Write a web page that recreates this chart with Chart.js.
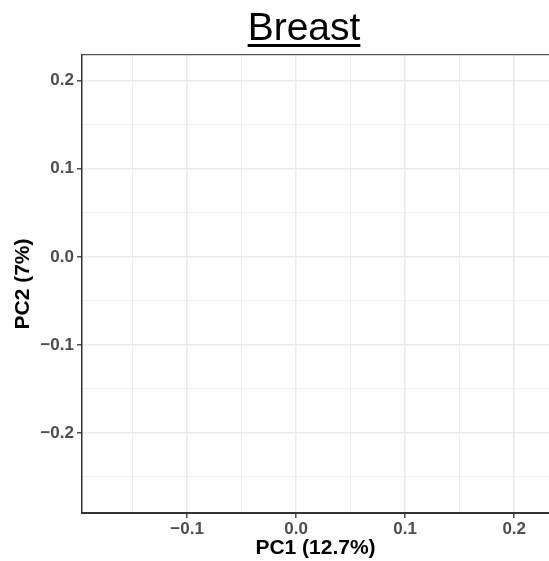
<!DOCTYPE html>
<html>
<head>
<meta charset="utf-8">
<script src="https://cdn.jsdelivr.net/npm/chart.js@4/dist/chart.umd.min.js"></script>
<style>
  body { margin: 0; background: #ffffff; overflow: hidden; }
  canvas { display: block; }
</style>
</head>
<body>
<canvas id="pca-chart" width="549" height="561"></canvas>
<script>
var title = "Breast";
var xTitle = "PC1 (12.7%)";
var yTitle = "PC2 (7%)";

// sample scores (none are drawn in this panel)
var pc1 = [];
var pc2 = [];

var xRange = [-0.1964, 0.2319];
var yRange = [-0.2909, 0.2292];

var xGrid = [-0.15, -0.1, -0.05, 0, 0.05, 0.1, 0.15, 0.2];
var yGrid = [-0.25, -0.2, -0.15, -0.1, -0.05, 0, 0.05, 0.1, 0.15, 0.2];
var majorTicks = [-0.2, -0.1, 0, 0.1, 0.2];
var majorLabels = ["\u22120.2", "\u22120.1", "0.0", "0.1", "0.2"];

function isMajor(v) {
  return majorTicks.some(function (m) { return Math.abs(m - v) < 1e-9; });
}
function labelFor(v) {
  for (var i = 0; i < majorTicks.length; i++) {
    if (Math.abs(majorTicks[i] - v) < 1e-9) return majorLabels[i];
  }
  return "";
}

var points = pc1.map(function (x, i) { return { x: x, y: pc2[i] }; });

var tickFont = { family: "'Liberation Sans', Arial", size: 17, weight: "bold" };
var titleFont = { family: "'Liberation Sans', Arial", size: 21, weight: "bold", lineHeight: 1.2 };

function gridOpts() {
  return {
    color: "#ebebeb",
    lineWidth: function (ctx) { return ctx.tick && isMajor(ctx.tick.value) ? 1.6 : 0.8; },
    tickColor: function (ctx) { return ctx.tick && isMajor(ctx.tick.value) ? "#333333" : "rgba(0,0,0,0)"; },
    tickLength: 5,
    tickWidth: 1.3,
  };
}

var titlePlugin = {
  id: "underlinedTitle",
  afterDraw: function (chart) {
    var c = chart.ctx;
    c.save();
    c.font = "39px 'Liberation Sans', Arial";
    c.fillStyle = "#000000";
    c.textAlign = "center";
    c.textBaseline = "alphabetic";
    var cx = 304;
    c.fillText(title, cx, 40);
    var w = c.measureText(title).width;
    c.fillRect(cx - w / 2, 44, w, 3);
    c.restore();
  },
};

var config = {
  type: "scatter",
  data: {
    datasets: [
      {
        label: title,
        data: points,
        backgroundColor: "#000000",
        pointRadius: 3,
      },
    ],
  },
  options: {
    responsive: false,
    animation: false,
    layout: { padding: { top: 55, right: 0, left: 0, bottom: 0 } },
    plugins: {
      legend: { display: false },
      tooltip: { enabled: false },
    },
    scales: {
      x: {
        type: "linear",
        position: "bottom",
        min: xRange[0],
        max: xRange[1],
        afterBuildTicks: function (scale) {
          scale.ticks = xGrid.map(function (v) { return { value: v }; });
        },
        afterFit: function (scale) { scale.height = 48; },
        ticks: {
          font: tickFont,
          color: "#4d4d4d",
          padding: 1,
          maxRotation: 0,
          autoSkip: false,
          callback: function (v) { return labelFor(v); },
        },
        grid: gridOpts(),
        border: { display: true, color: "#333333", width: 2 },
        title: {
          display: true,
          text: xTitle,
          font: titleFont,
          color: "#000000",
          padding: { top: 0, bottom: 0 },
        },
      },
      x2: {
        type: "linear",
        position: "top",
        afterFit: function (scale) { scale.height = 0; },
        ticks: { display: false },
        grid: { color: "rgba(0,0,0,0)", drawTicks: false },
        border: { display: true, color: "#555555", width: 1.2 },
      },
      y: {
        type: "linear",
        position: "left",
        min: yRange[0],
        max: yRange[1],
        afterBuildTicks: function (scale) {
          scale.ticks = yGrid.map(function (v) { return { value: v }; });
        },
        afterFit: function (scale) { scale.width = 82; },
        ticks: {
          font: tickFont,
          color: "#4d4d4d",
          padding: 3,
          autoSkip: false,
          callback: function (v) { return labelFor(v); },
        },
        grid: gridOpts(),
        border: { display: true, color: "#333333", width: 1.5 },
        title: {
          display: true,
          text: yTitle,
          font: titleFont,
          color: "#000000",
          padding: { top: 11, bottom: 0 },
        },
      },
    },
  },
  plugins: [titlePlugin],
};

var ctxOne = document.getElementById("pca-chart").getContext("2d");
new Chart(ctxOne, config);
</script>
</body>
</html>
